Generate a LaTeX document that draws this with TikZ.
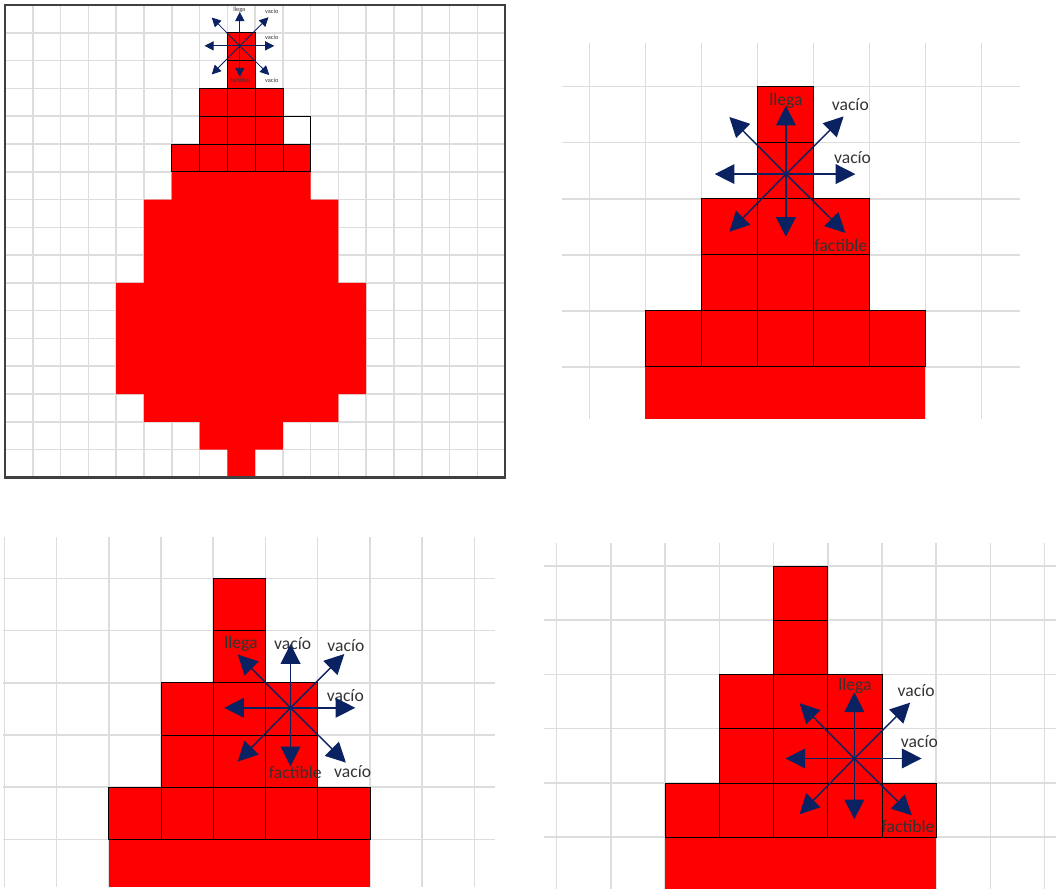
\documentclass[tikz,border=0pt]{standalone}
\usepackage{fontspec}
\setmainfont{Carlito}
\usepackage{tikz}
\usetikzlibrary{arrows.meta}
\definecolor{gridgray}{HTML}{DDDDDD}
\definecolor{framegray}{HTML}{404040}
\definecolor{arrnavy}{HTML}{0B2262}
\definecolor{txtgray}{HTML}{333333}
\tikzset{
  gridline/.style={draw=gridgray,line width=1.1pt},
  redcell/.style={fill=red,draw=black,line width=0.5pt},
  emptycell/.style={draw=black,line width=0.5pt},
  dirarrow/.style={draw=arrnavy,line width=1pt,-{Triangle[length=14pt,width=14pt]}},
  tinyarrow/.style={draw=arrnavy,line width=0.6pt,-{Triangle[length=6.5pt,width=6.5pt]}},
  lbl/.style={font=\fontsize{12.5}{13}\selectfont,text=txtgray,inner sep=0pt},
  tinylbl/.style={font=\fontsize{4.5}{5}\selectfont,text=txtgray,inner sep=0pt}
}
% eight arrows out of one cell
\newcommand{\octarrows}[2]{%
  \foreach \dx/\dy in {1.24/0,1.03/-1.03,0/-1.22,-1.01/-1.02,-1.27/0,-1.01/1.03,0/1.12,1.06/1.05}
    \draw[#2] (#1) -- ++(\dx,\dy);}

\begin{document}
\begin{tikzpicture}[x=0.025cm,y=-0.025cm]
  \useasboundingbox (0,0) rectangle (1056,888);

  % panel 1: whole tree
  \begin{scope}[shift={(5,5)},x=0.6945cm,y=-0.6945cm]
    \foreach \i in {1,...,17} \draw[gridline] (\i,0) -- (\i,17);
    \foreach \j in {1,...,16} \draw[gridline] (0,\j) -- (18,\j);
    \fill[red] (6,6) -- (11,6) -- (11,7) -- (12,7) -- (12,10) -- (13,10) -- (13,14)
      -- (12,14) -- (12,15) -- (10,15) -- (10,16) -- (9,16) -- (9,17) -- (8,17)
      -- (8,16) -- (7,16) -- (7,15) -- (5,15) -- (5,14) -- (4,14) -- (4,10)
      -- (5,10) -- (5,7) -- (6,7) -- cycle;
    \foreach \c in {6,...,10} \draw[redcell] (\c,5) rectangle ++(1,1);
    \foreach \r in {3,4} \foreach \c in {7,8,9} \draw[redcell] (\c,\r) rectangle ++(1,1);
    \foreach \r in {1,2} \draw[redcell] (8,\r) rectangle ++(1,1);
    \draw[emptycell] (10,4) rectangle ++(1,1);
    \draw[framegray,line width=1.6pt] (0,0) rectangle (18,17);
    \coordinate (c1) at (8.45,1.47);
    \node[tinylbl] (p1llega) at (8.43,0.18) {llega};
    \node[tinylbl] (p1vaciob) at (9.6,0.24) {vacío};
    \node[tinylbl] (p1vacioc) at (9.6,1.16) {vacío};
    \node[tinylbl] (p1fact) at (8.46,2.7) {factible};
    \node[tinylbl] (p1vaciod) at (9.6,2.7) {vacío};
    \octarrows{c1}{tinyarrow}
  \end{scope}

  % panel 2: top cell
  \begin{scope}[shift={(589.3,86.7)},x=1.4cm,y=-1.4cm]
    \foreach \i in {0,...,7} \draw[gridline] (\i,-0.78) -- (\i,5.93);
    \foreach \j in {0,...,5} \draw[gridline] (-0.48,\j) -- (7.68,\j);
    \fill[red] (1,5) rectangle (6,5.93);
    \foreach \c in {1,...,5} \draw[redcell] (\c,4) rectangle ++(1,1);
    \foreach \r in {2,3} \foreach \c in {2,3,4} \draw[redcell] (\c,\r) rectangle ++(1,1);
    \foreach \r in {0,1} \draw[redcell] (3,\r) rectangle ++(1,1);
    \coordinate (c2) at (3.51,1.56);
    \node[lbl] (p2llega) at (3.51,0.26) {llega};
    \node[lbl] (p2vacioa) at (4.66,0.31) {vacío};
    \node[lbl] (p2vaciob) at (4.70,1.27) {vacío};
    \node[lbl] (p2fact) at (4.49,2.83) {factible};
    \octarrows{c2}{dirarrow}
  \end{scope}

  % panel 3: second step
  \begin{scope}[shift={(4.4,578.3)},x=1.305cm,y=-1.305cm]
    \foreach \i in {0,...,9} \draw[gridline] (\i,-0.79) -- (\i,5.92);
    \foreach \j in {0,...,5} \draw[gridline] (-0.03,\j) -- (9.4,\j);
    \fill[red] (2,5) rectangle (7,5.92);
    \foreach \c in {2,...,6} \draw[redcell] (\c,4) rectangle ++(1,1);
    \foreach \r in {2,3} \foreach \c in {3,4,5} \draw[redcell] (\c,\r) rectangle ++(1,1);
    \foreach \r in {0,1} \draw[redcell] (4,\r) rectangle ++(1,1);
    \coordinate (c3) at (5.48,2.48);
    \node[lbl] (p3llega) at (4.53,1.25) {llega};
    \node[lbl] (p3vacioa) at (5.52,1.25) {vacío};
    \node[lbl] (p3vaciob) at (6.54,1.28) {vacío};
    \node[lbl] (p3vacioc) at (6.53,2.25) {vacío};
    \node[lbl] (p3fact) at (5.57,3.71) {factible};
    \node[lbl] (p3vaciod) at (6.67,3.71) {vacío};
    \octarrows{c3}{dirarrow}
  \end{scope}

  % panel 4: third step
  \begin{scope}[shift={(556.7,566)},x=1.355cm,y=-1.355cm]
    \foreach \i in {0,...,9} \draw[gridline] (\i,-0.42) -- (\i,5.96);
    \foreach \j in {0,...,5} \draw[gridline] (-0.23,\j) -- (9.21,\j);
    \fill[red] (2,5) rectangle (7,5.96);
    \foreach \c in {2,...,6} \draw[redcell] (\c,4) rectangle ++(1,1);
    \foreach \r in {2,3} \foreach \c in {3,4,5} \draw[redcell] (\c,\r) rectangle ++(1,1);
    \foreach \r in {0,1} \draw[redcell] (4,\r) rectangle ++(1,1);
    \coordinate (c4) at (5.49,3.55);
    \node[lbl] (p4llega) at (5.5,2.22) {llega};
    \node[lbl] (p4vacioa) at (6.63,2.29) {vacío};
    \node[lbl] (p4vaciob) at (6.69,3.23) {vacío};
    \node[lbl] (p4fact) at (6.48,4.8) {factible};
    \octarrows{c4}{dirarrow}
  \end{scope}
\end{tikzpicture}
\end{document}
